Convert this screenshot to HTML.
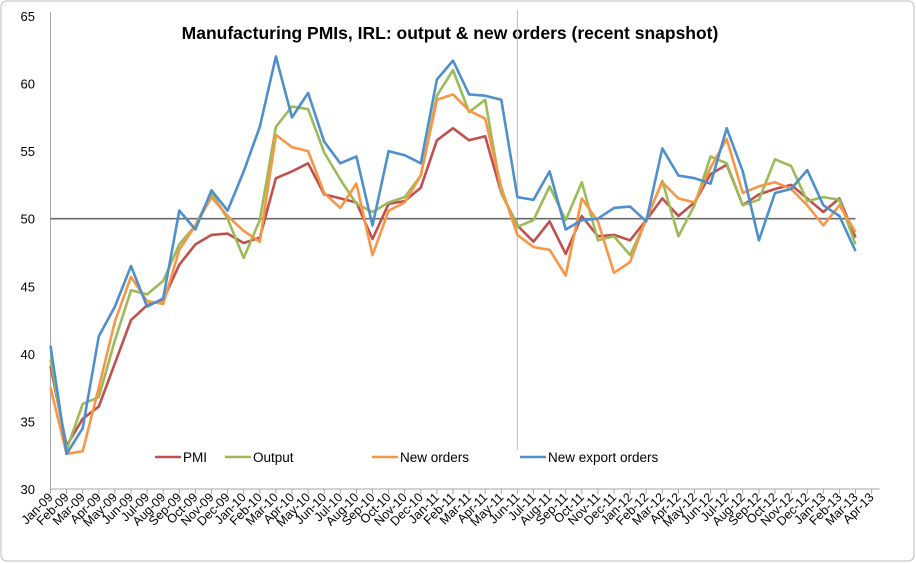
<!DOCTYPE html>
<html><head><meta charset="utf-8"><style>
html,body{margin:0;padding:0;background:#fff}
svg{display:block;font-family:"Liberation Sans",sans-serif}
</style></head><body>
<svg id="chart" width="916" height="563" viewBox="0 0 916 563">
<rect x="1" y="1" width="913" height="560" rx="6" fill="#fff" stroke="#bcbcbc"/>
<text x="450" y="39" text-anchor="middle" font-size="17.5" font-weight="bold" fill="#000">Manufacturing PMIs, IRL: output &amp; new orders (recent snapshot)</text>
<g id="axes"></g><g id="series"></g><g id="legend"></g>
</svg>
<script>
const categories=["Jan-09","Feb-09","Mar-09","Apr-09","May-09","Jun-09","Jul-09","Aug-09","Sep-09","Oct-09","Nov-09","Dec-09","Jan-10","Feb-10","Mar-10","Apr-10","May-10","Jun-10","Jul-10","Aug-10","Sep-10","Oct-10","Nov-10","Dec-10","Jan-11","Feb-11","Mar-11","Apr-11","May-11","Jun-11","Jul-11","Aug-11","Sep-11","Oct-11","Nov-11","Dec-11","Jan-12","Feb-12","Mar-12","Apr-12","May-12","Jun-12","Jul-12","Aug-12","Sep-12","Oct-12","Nov-12","Dec-12","Jan-13","Feb-13","Mar-13","Apr-13"];
const pmi=[39.1,33.2,35.2,36.1,39.3,42.5,43.6,44.0,46.6,48.1,48.8,48.9,48.2,48.6,53.0,53.5,54.1,51.8,51.5,51.2,48.5,51.1,51.3,52.3,55.8,56.7,55.8,56.1,51.9,49.5,48.3,49.8,47.4,50.2,48.7,48.8,48.4,49.9,51.5,50.2,51.2,53.3,54.0,51.0,51.8,52.2,52.5,51.5,50.5,51.5,48.6];
const output=[39.6,32.9,36.3,36.8,41.0,44.7,44.4,45.4,48.1,49.5,51.9,50.0,47.1,49.9,56.8,58.3,58.1,54.9,52.9,51.1,50.5,51.2,51.6,53.2,59.1,61.0,57.9,58.8,51.9,49.4,49.9,52.4,49.9,52.7,48.4,48.7,47.3,49.9,52.8,48.7,51.0,54.6,54.1,51.0,51.4,54.4,53.9,51.3,51.6,51.4,48.1];
const newOrders=[37.5,32.6,32.8,37.5,42.4,45.7,43.9,43.7,47.7,49.5,51.6,50.2,49.1,48.3,56.2,55.3,55.0,51.9,50.8,52.6,47.3,50.6,51.2,53.2,58.8,59.2,58.0,57.4,52.3,48.8,47.9,47.7,45.8,51.5,49.8,46.0,46.8,50.0,52.7,51.5,51.2,53.8,55.9,51.9,52.4,52.7,52.2,51.0,49.5,51.0,49.0];
const newExportOrders=[40.6,32.6,34.5,41.3,43.5,46.5,43.5,44.1,50.6,49.2,52.1,50.6,53.5,56.8,62.0,57.5,59.3,55.7,54.1,54.6,49.5,55.0,54.7,54.1,60.3,61.7,59.2,59.1,58.8,51.6,51.4,53.5,49.2,49.9,50.0,50.8,50.9,49.8,55.2,53.2,53.0,52.6,56.7,53.5,48.4,51.9,52.2,53.6,51.0,50.2,47.6];
const yTicks=[30,35,40,45,50,55,60,65];
const seriesNames=["PMI","Output","New orders","New export orders"];
const seriesColors=["#c0504d","#9bbb59","#f79646","#4f8fcc"];
const referenceLevel=50;
const markerIndex=29;

const NS="http://www.w3.org/2000/svg";
const X0=50.5, DX=16.1, Y0=489, YT=16, VMIN=30, VMAX=65;
const xs=i=>X0+i*DX;
const ys=v=>Y0-(v-VMIN)/(VMAX-VMIN)*(Y0-YT);
function mk(tag,attrs,parent){const e=document.createElementNS(NS,tag);for(const k in attrs)e.setAttribute(k,attrs[k]);parent.appendChild(e);return e;}
const axes=document.getElementById('axes');
const yAxis=mk('line',{x1:X0,y1:YT-4,x2:X0,y2:Y0,stroke:'#a6a6a6','stroke-width':1},axes);


yTicks.forEach(t=>{
  const tl=mk('text',{x:35,y:ys(t)+5,'text-anchor':'end','font-size':13,fill:'#000'},axes);
  tl.textContent=t;
  
  
});
const xAxis=mk('line',{x1:X0,y1:Y0,x2:xs(categories.length-1)+8,y2:Y0,stroke:'#a6a6a6','stroke-width':1},axes);


categories.forEach((c,i)=>{
  const tk=mk('line',{x1:xs(i),y1:Y0,x2:xs(i),y2:Y0+5,stroke:'#a6a6a6'},axes);
  
  
  const tx=mk('text',{x:xs(i)+3,y:Y0+9,'text-anchor':'end','font-size':12.5,fill:'#000',transform:`rotate(-45 ${xs(i)+3} ${Y0+9})`},axes);
  tx.textContent=c;
  
  
});
const vline=mk('line',{x1:xs(markerIndex),y1:YT-6,x2:xs(markerIndex),y2:450,stroke:'#bdbdbd','stroke-width':1},axes);


const ref=mk('line',{x1:X0,y1:ys(referenceLevel),x2:xs(pmi.length-1),y2:ys(referenceLevel),stroke:'#6b6b6b','stroke-width':1.6},axes);



const sg=document.getElementById('series');
[pmi,output,newOrders,newExportOrders].forEach((arr,k)=>{
  const pts=arr.map((v,i)=>xs(i).toFixed(1)+','+ys(v).toFixed(1)).join(' ');
  const p=mk('polyline',{points:pts,fill:'none',stroke:seriesColors[k],'stroke-width':2.6,'stroke-linejoin':'round'},sg);
  
  
});
const lg=document.getElementById('legend');
const lx=[155,225,372,520];
seriesNames.forEach((n,k)=>{
  const g=mk('g',{},lg);
  
  
  mk('line',{x1:lx[k],y1:457,x2:lx[k]+26,y2:457,stroke:seriesColors[k],'stroke-width':2.6},g);
  const t=mk('text',{x:lx[k]+28,y:462,'font-size':13.5,fill:'#000'},g);
  t.textContent=n;
});
</script>
</body></html>
